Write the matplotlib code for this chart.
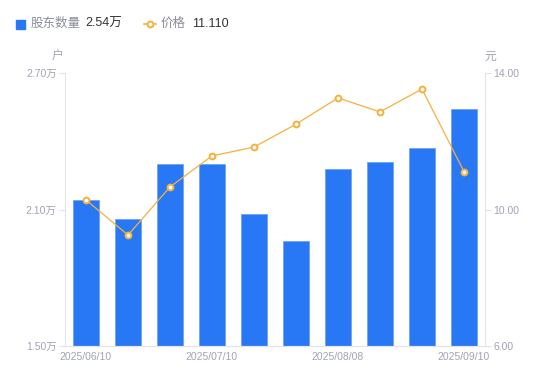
import numpy as np
import matplotlib
matplotlib.use("Agg")
import matplotlib.pyplot as plt
from matplotlib.lines import Line2D

plt.rcParams['font.family'] = ['Liberation Sans', 'Noto Sans CJK SC', 'DejaVu Sans']

dates = ['2025/06/10', '2025/06/20', '2025/06/30', '2025/07/10', '2025/07/18',
         '2025/07/31', '2025/08/08', '2025/08/20', '2025/08/29', '2025/09/10']
holders = [2.14, 2.06, 2.30, 2.30, 2.08, 1.96, 2.28, 2.31, 2.37, 2.54]  # 万户
price = [10.28, 9.25, 10.66, 11.57, 11.83, 12.50, 13.27, 12.86, 13.53, 11.11]
shown_ticks = [0, 3, 6, 9]

bar_color = '#2878f5'
line_color = '#f5b13c'
tick_color = '#a0a3b4'
axis_color = '#e3e4e8'

fig = plt.figure(figsize=(5.5, 3.81), dpi=100)
ax = fig.add_axes([65 / 550, 35 / 381, 420 / 550, 273 / 381])
ax2 = ax.twinx()

x = np.arange(len(dates))
ax.bar(x, holders, width=0.6, color=bar_color, edgecolor='#6fa3f7', linewidth=0.6, zorder=2)
ax.set_xlim(-0.5, len(dates) - 0.5)
ax.set_ylim(1.5, 2.7)
ax.set_yticks([1.5, 2.1, 2.7])
ax.set_yticklabels(['%.2f万' % v for v in [1.5, 2.1, 2.7]])
ax.set_xticks(shown_ticks)
ax.set_xticklabels([dates[i] for i in shown_ticks])

ax2.plot(x, price, color=line_color, linewidth=0.9, marker='o', markersize=4.2,
         markerfacecolor='white', markeredgecolor=line_color, markeredgewidth=1.4, zorder=3)
ax2.set_ylim(6, 14)
ax2.set_yticks([6, 10, 14])
ax2.set_yticklabels(['%.2f' % v for v in [6, 10, 14]])

for a in (ax, ax2):
    a.spines['top'].set_visible(False)
    a.spines['left'].set_color(axis_color)
    a.spines['right'].set_color(axis_color)
    a.spines['bottom'].set_color(axis_color)
    a.tick_params(colors=tick_color, labelsize=7.5, length=0, pad=3)

ax.spines['right'].set_visible(False)
ax2.spines['left'].set_visible(False)
ax.tick_params(axis='y', length=4, color=axis_color, pad=2)
ax2.tick_params(axis='y', length=4, color=axis_color, pad=2)
ax.tick_params(axis='x', pad=4)

fig.text(58 / 550, 1 - 57 / 381, '户', color=tick_color, fontsize=8.5, ha='center', va='center')
fig.text(490 / 550, 1 - 57 / 381, '元', color=tick_color, fontsize=8.5, ha='center', va='center')

# legend drawn as figure text
ly = 1 - 24 / 381
fig.patches.append(plt.Rectangle((16 / 550, ly - 4.5 / 381), 9 / 550, 9 / 381,
                                 transform=fig.transFigure, color=bar_color, figure=fig))
fig.text(31 / 550, ly, '股东数量', color='#8a8d99', fontsize=9, va='center')
fig.text(85 / 550, ly, '2.54万', color='#333333', fontsize=9, va='center')
fig.lines.append(Line2D([144 / 550, 156 / 550], [ly, ly], transform=fig.transFigure,
                        color=line_color, linewidth=1.2, figure=fig))
fig.lines.append(Line2D([150 / 550], [ly], transform=fig.transFigure, color=line_color,
                        marker='o', markersize=4.2, markerfacecolor='white',
                        markeredgewidth=1.4, figure=fig))
fig.text(161 / 550, ly, '价格', color='#8a8d99', fontsize=9, va='center')
fig.text(192 / 550, ly, '11.110', color='#333333', fontsize=9, va='center')

fig.savefig('out.png', dpi=100)
